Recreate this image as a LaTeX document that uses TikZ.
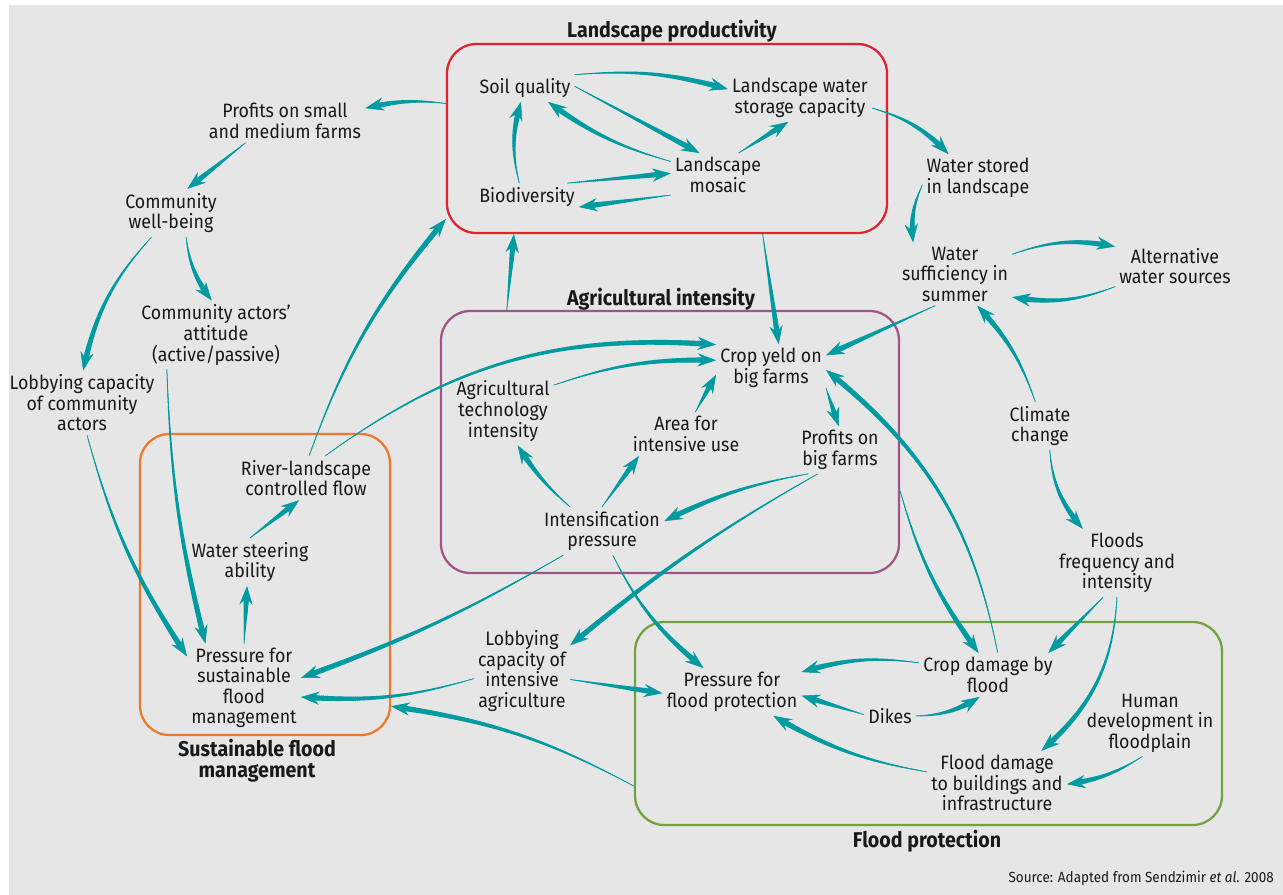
\documentclass[tikz,border=0pt]{standalone}
\usepackage{fontspec}
\setmainfont{Fira Sans}[FakeStretch=0.92]
\usetikzlibrary{arrows.meta,decorations.markings}
\definecolor{bgc}{RGB}{230,230,230}
\definecolor{arrc}{RGB}{0,155,160}
\definecolor{txtc}{RGB}{25,25,25}
\definecolor{redc}{RGB}{225,35,45}
\definecolor{purc}{RGB}{160,85,135}
\definecolor{orac}{RGB}{240,120,45}
\definecolor{grnc}{RGB}{115,160,65}
\newcommand\nfont{\fontsize{14.5}{15.4}\selectfont}
\newcommand\ttlfont{\fontsize{16}{16}\selectfont\bfseries}
\newcommand\srcfont{\fontsize{11}{12}\selectfont}
\tikzset{
  lbl/.style={align=center, inner sep=3pt, text=txtc, font=\nfont},
  ttl/.style={align=center, inner sep=0pt, text=txtc, font=\ttlfont},
  grpbox/.style={draw=#1, line width=1.7pt, rounded corners=22pt, inner sep=0pt},
  flow/.style={draw=arrc, line width=0.4pt,
    -{Stealth[length=14pt,width=10pt,inset=5pt]},
    postaction={decorate, decoration={markings,
      mark=between positions 0 and -10pt step 1.5pt with {
        \pgfmathsetmacro\tapw{0.35+3.7*\pgfkeysvalueof{/pgf/decoration/mark info/distance from start}/(\pgfdecoratedpathlength-10pt)}
        \draw[arrc, arrows=-, line cap=butt, line width=\tapw pt] (0,0) -- (1.9pt,0);
      }}}
  }
}
\begin{document}
\begin{tikzpicture}[x=0.75pt,y=-0.75pt]
\useasboundingbox (0,0) rectangle (1283,895);
\fill[white] (0,0) rectangle (1283,895);
\fill[bgc] (9,5) rectangle (1283,895);

% group boxes
\node[grpbox=redc, minimum width=330pt, minimum height=141.75pt] (redbox) at (667,138.5) {};
\node[grpbox=purc, minimum width=343.5pt, minimum height=196.5pt] (purbox) at (670,442) {};
\node[grpbox=orac, minimum width=187.5pt, minimum height=225.75pt] (orabox) at (265,584.5) {};
\node[grpbox=grnc, minimum width=440.25pt, minimum height=152.25pt] (grnbox) at (928.5,723.5) {};

% titles
\node[ttl] (t1) at (672,31) {Landscape productivity};
\node[ttl] (t2) at (661,299) {Agricultural intensity};
\node[ttl] (t3) at (257,761) {Sustainable flood\\management};
\node[ttl] (t4) at (927,841) {Flood protection};
\node[anchor=east, inner sep=0pt, text=txtc, font=\srcfont] (src) at (1274,878) {Source: Adapted from Sendzimir \textit{et al.} 2008};

% factor nodes
\node[lbl] (soil) at (525,88) {Soil quality};
\node[lbl] (lwsc) at (800,98) {Landscape water\\storage capacity};
\node[lbl] (mosaic) at (718,175) {Landscape\\mosaic};
\node[lbl] (bio) at (527,197) {Biodiversity};
\node[lbl] (psmall) at (285,121) {Profits on small\\and medium farms};
\node[lbl] (cwb) at (171,213) {Community\\well-being};
\node[lbl] (attitude) at (216,335) {Community actors’\\attitude\\(active/passive)};
\node[lbl] (lobcomm) at (82,403) {Lobbying capacity\\of community\\actors};
\node[lbl] (wstored) at (978,178) {Water stored\\in landscape};
\node[lbl] (wsuff) at (955,274) {Water\\sufficiency in\\summer};
\node[lbl] (altw) at (1175,266) {Alternative\\water sources};
\node[lbl] (climate) at (1040,426) {Climate\\change};
\node[lbl] (cropy) at (771,368) {Crop yeld on\\big farms};
\node[lbl] (agtech) at (503,411) {Agricultural\\technology\\intensity};
\node[lbl] (area) at (686,434) {Area for\\intensive use};
\node[lbl] (pbig) at (840,450) {Profits on\\big farms};
\node[lbl] (intens) at (602,531) {Intensification\\pressure};
\node[lbl] (river) at (306,478) {River-landscape\\controlled flow};
\node[lbl] (wsteer) at (250,562) {Water steering\\ability};
\node[lbl] (psust) at (244,688) {Pressure for\\sustainable\\flood\\management};
\node[lbl] (lobint) at (522,671) {Lobbying\\capacity of\\intensive\\agriculture};
\node[lbl] (floods) at (1117,563) {Floods\\frequency and\\intensity};
\node[lbl] (pflood) at (732,692) {Pressure for\\flood protection};
\node[lbl] (cropd) at (988,675) {Crop damage by\\flood};
\node[lbl] (dikes) at (890,716) {Dikes};
\node[lbl] (humdev) at (1150,723) {Human\\development in\\floodplain};
\node[lbl] (flooddmg) at (997,783) {Flood damage\\to buildings and\\infrastructure};

% connectors
\draw[flow] (soil.15) to[bend left=10] (lwsc.173);
\draw[flow] (soil.2) -- (mosaic.130);
\draw[flow] (mosaic.164) to[bend left=10] (soil.-31);
\draw[flow] (bio.119) to[bend left=15] (soil.-106);
\draw[flow] (bio.19) -- (mosaic.178);
\draw[flow] (mosaic.203) -- (bio.-11);
\draw[flow] (mosaic.47) -- (lwsc.-116);
\draw[flow] (lwsc.-8) to[bend left=15] (wstored.141);
\draw[flow] (redbox.171) to[bend right=10] (psmall.9);
\draw[flow] (psmall.-151) -- (cwb.56);
\draw[flow] (cwb.-129) to[bend right=15] (lobcomm.88);
\draw[flow] (cwb.-58) to[bend right=15] (attitude.97);
\draw[flow] (attitude.-145) to[bend right=6] (psust.131);
\draw[flow] (lobcomm.-81) to[bend right=9] (psust.151);
\draw[flow] (river.82) to[bend left=10] (redbox.-160);
\draw[flow] (river.49) to[bend left=20] (cropy.157);
\draw[flow] (agtech.27) to[bend left=10] (cropy.172);
\draw[flow] (area.67) -- (cropy.-173);
\draw[flow] (intens.143) to[bend left=8] (agtech.-67);
\draw[flow] (intens.90) -- (area.-155);
\draw[flow] (pbig.-143) to[bend right=8] (intens.9);
\draw[flow] (cropy.-20) -- (pbig.93);
\draw[flow] (redbox.-45) -- (cropy.72);
\draw[flow] (purbox.141) -- (redbox.-148);
\draw[flow] (wsuff.-122) -- (cropy.13);
\draw[flow] (wstored.-173) to[bend right=15] (wsuff.143);
\draw[flow] (wsuff.19) to[bend left=15] (altw.162);
\draw[flow] (altw.-161) to[bend left=15] (wsuff.-22);
\draw[flow] (climate.101) to[bend right=12] (wsuff.-55);
\draw[flow] (climate.-68) to[bend right=18] (floods.135);
\draw[flow] (floods.-112) -- (cropd.20);
\draw[flow] (floods.-90) to[bend left=23] (flooddmg.36);
\draw[flow] (humdev.-103) to[bend left=12] (flooddmg.-1);
\draw[flow] (cropd.66) to[bend right=20] (cropy.-2);
\draw[flow] (purbox.-12) to[bend right=10] (cropd.113);
\draw[flow] (pbig.-133) to[bend right=5] (lobint.28);
\draw[flow] (intens.-148) to[bend left=5] (psust.10);
\draw[flow] (intens.-66) to[bend right=12] (pflood.140);
\draw[flow] (lobint.-171) to[bend left=10] (psust.-9);
\draw[flow] (lobint.-10) -- (pflood.-179);
\draw[flow] (grnbox.-168) to[bend right=10] (orabox.-44);
\draw[flow] (cropd.170) to[bend right=12] (pflood.16);
\draw[flow] (dikes.177) -- (pflood.-3);
\draw[flow] (dikes.0) to[bend right=15] (cropd.-111);
\draw[flow] (flooddmg.171) to[bend left=10] (pflood.-30);
\draw[flow] (psust.90) -- (wsteer.-97);
\draw[flow] (wsteer.90) -- (river.-107);
\end{tikzpicture}
\end{document}
